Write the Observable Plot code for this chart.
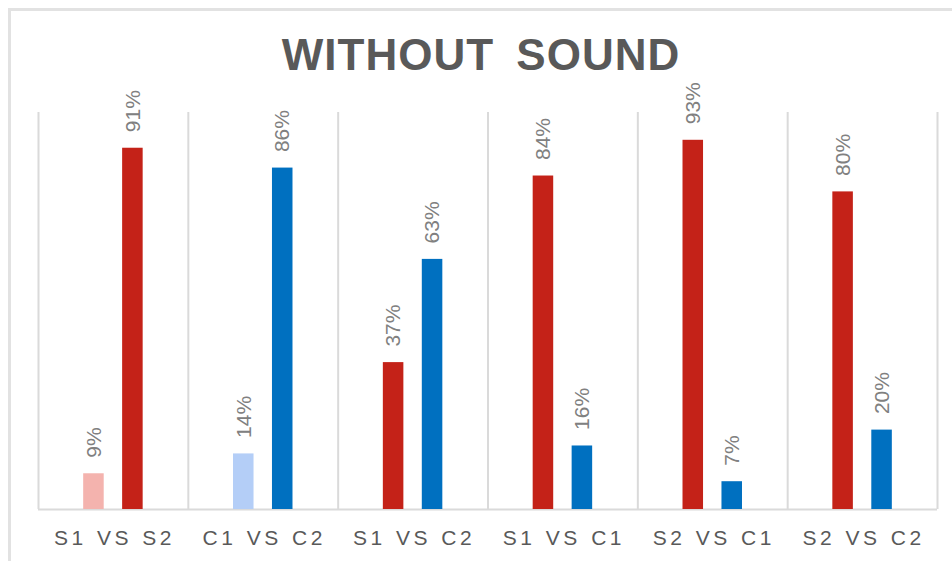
<!DOCTYPE html>
<html>
<head>
<meta charset="utf-8">
<script src="https://cdn.jsdelivr.net/npm/d3@7"></script>
<script src="https://cdn.jsdelivr.net/npm/@observablehq/plot@0.6"></script>
<style>
  html, body { margin: 0; padding: 0; background: #ffffff; }
  #page { position: relative; width: 952px; height: 561px; overflow: hidden; background: #ffffff; }
  #border { position: absolute; left: 8px; top: 8px; width: 1000px; height: 700px;
            border-left: 3px solid #e2e2e2; border-top: 3px solid #e2e2e2; }
  #title { position: relative; height: 100px; }
  #title span { position: absolute; left: 0; width: 962px; top: 33px; text-align: center;
                font-family: "Liberation Sans", Arial, sans-serif; font-weight: bold;
                font-size: 44px; line-height: 44px; color: #595959;
                letter-spacing: 1px; word-spacing: 9px; }
  #chart { position: relative; }
  #chart svg { display: block; overflow: visible; }
</style>
</head>
<body>
<div id="page">
  <div id="border"></div>
  <div id="title"><span>WITHOUT SOUND</span></div>
  <div id="chart"></div>
</div>
<script>
// Pairwise preference shares, without sound
const groups = ["S1 VS S2", "C1 VS C2", "S1 VS C2", "S1 VS C1", "S2 VS C1", "S2 VS C2"];
const firstValues  = [0.09, 0.14, 0.37, 0.84, 0.93, 0.80];
const secondValues = [0.91, 0.86, 0.63, 0.16, 0.07, 0.20];
const firstKinds   = ["S light", "C light", "S", "S", "S", "S"];
const secondKinds  = ["S", "C", "C", "C", "C", "C"];
const kindOrder    = ["S light", "S", "C light", "C"];

// bar placement inside each comparison slot (fraction of the slot)
const barCenters = [0.37, 0.63];
const barWidth = 0.137;

const bars = groups.flatMap((g, i) => [
  {group: g, i, slot: 0, value: firstValues[i], kind: firstKinds[i]},
  {group: g, i, slot: 1, value: secondValues[i], kind: secondKinds[i]}
]);
const pos = d => d.i + barCenters[d.slot];
const slots = d3.range(groups.length + 1);

const chart = Plot.plot({
  width: 952,
  height: 461,
  marginLeft: 38,
  marginRight: 15,
  marginTop: 12,
  marginBottom: 52,
  style: {fontFamily: "'Liberation Sans', Arial, sans-serif", background: "transparent", overflow: "visible"},
  x: {domain: [0, groups.length], axis: null},
  y: {domain: [0, 1], axis: null},
  color: {domain: kindOrder, range: ["#F4B3AE", "#C42218", "#B4CEF7", "#0070C0"]},
  marks: [
    Plot.ruleX(slots, {x: d => d, y1: 0, y2: 1, stroke: "#dadada", strokeWidth: 2}),
    Plot.ruleY([0], {stroke: "#dadada", strokeWidth: 2}),
    Plot.rectY(bars, {
      x1: d => pos(d) - barWidth / 2,
      x2: d => pos(d) + barWidth / 2,
      y: "value",
      fill: "kind"
    }),
    Plot.text(bars, {
      x: pos,
      y: "value",
      text: d => d3.format(".0%")(d.value),
      rotate: -90,
      textAnchor: "start",
      lineAnchor: "middle",
      dy: -16,
      fontSize: 21,
      fill: "#808080"
    }),
    Plot.text(groups, {
      x: (d, i) => i + 0.5,
      y: 0,
      text: d => d,
      dy: 29,
      dx: 1,
      fontSize: 21,
      fill: "#595959"
    })
  ]
});

// spaced-out lettering for the comparison names
d3.select(chart).selectAll("text")
  .filter(function() { return groups.includes(this.textContent); })
  .style("letter-spacing", "3.5px")
  .style("word-spacing", "1px");

document.getElementById("chart").appendChild(chart);
</script>
</body>
</html>
